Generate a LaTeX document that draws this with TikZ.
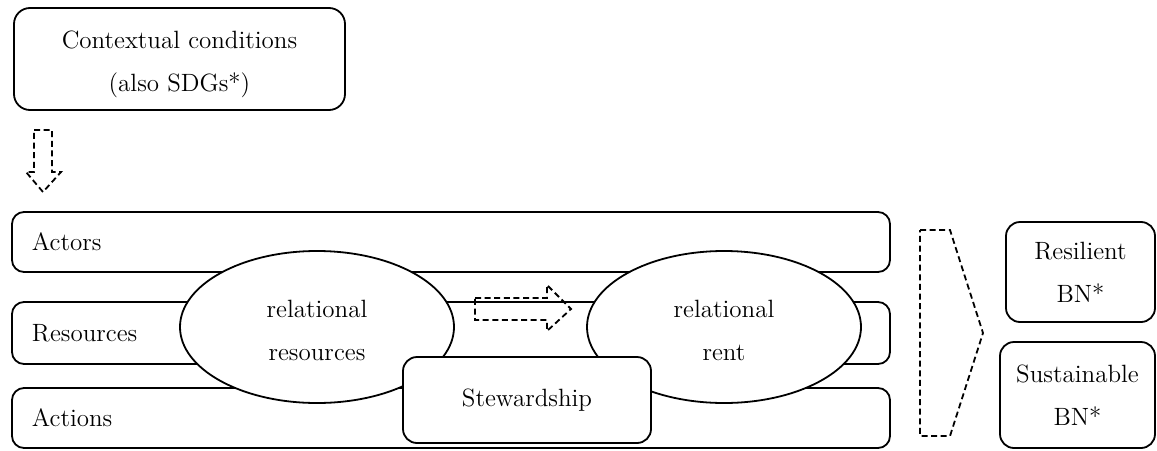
\documentclass[tikz,border=0pt]{standalone}
\usetikzlibrary{shapes.geometric, positioning}
\tikzset{
    every node/.style={font=\fontsize{12.5}{21.5}\selectfont}, % text size for all labels
    box/.style={draw, line width=0.9pt, rounded corners=7pt, fill=white, align=center, inner sep=0pt},
    bar/.style={draw, line width=0.9pt, rounded corners=6pt, fill=white, text width=419pt, align=left, inner xsep=10pt, inner ysep=0pt, minimum height=30pt},
    blob/.style={draw, line width=0.9pt, ellipse, fill=white, minimum width=137pt, minimum height=76pt, align=center, inner sep=0pt},
    flow/.style={draw, line width=0.9pt, dash pattern=on 3pt off 1.8pt, line join=miter}, % dashed block arrows
}

\begin{document}
\begin{tikzpicture}[x=0.5pt, y=-0.5pt]
    \useasboundingbox (0,0) rectangle (1157,450);
    % context on top
    \node[box, minimum width=165.5pt, minimum height=51pt, rounded corners=8pt] (ctx) at (179.5,59) {\rule{0pt}{14pt}Contextual conditions\\(also SDGs*)};
    % the three layers
    \node[bar] (actors) at (451,242) {Actors};
    \node[bar, minimum height=31pt] (resources) at (451,333) {Resources};
    \node[bar] (actions) at (451,418) {Actions};
    % relational part
    \node[blob] (relres) at (317,327) {\rule{0pt}{12pt}relational\\resources};
    \node[blob] (relrent) at (724,327) {\rule{0pt}{12pt}relational\\rent};
    \node[box, minimum width=124pt, minimum height=43pt] (steward) at (527,400) {Stewardship};
    % outcomes
    \node[box, minimum width=74.5pt, minimum height=50pt] (resilient) at (1080.5,272) {Resilient\\BN*};
    \node[box, minimum width=77.5pt, minimum height=53pt] (sustain) at (1077.5,395) {Sustainable\\BN*};
    % block arrows
    \draw[flow] (34,130) -- (52,130) -- (52,172) -- (61,172) -- (43,192) -- (26,172) -- (34,172) -- cycle;
    \draw[flow] (475,298) -- (547,298) -- (547,285) -- (571,309) -- (547,331) -- (547,320) -- (475,320) -- cycle;
    \draw[flow] (920,230) -- (950,230) -- (983,333) -- (950,436) -- (920,436) -- cycle;
\end{tikzpicture}
\end{document}
